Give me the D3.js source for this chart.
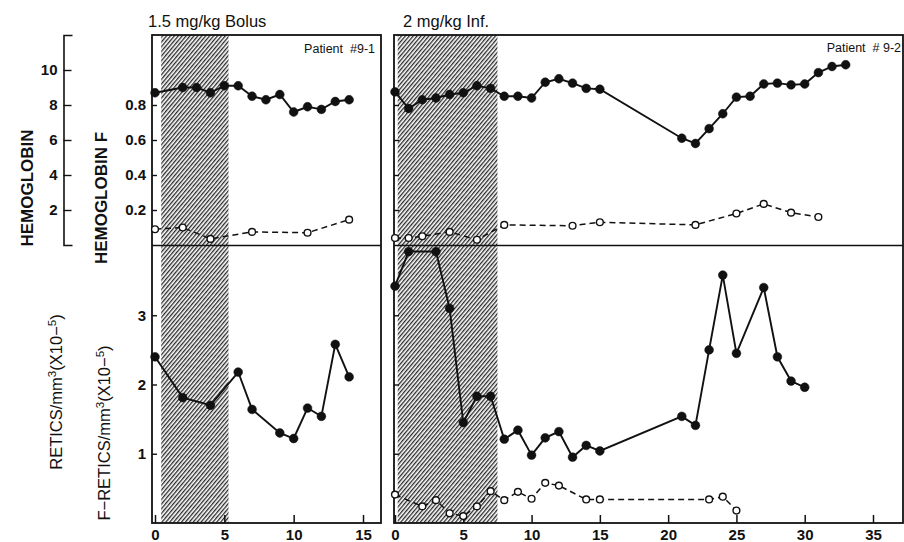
<!DOCTYPE html>
<html>
<head>
<meta charset="utf-8">
<script src="https://cdn.jsdelivr.net/npm/d3@7"></script>
<style>
  body { margin: 0; background: #fff; }
  svg { display: block; font-family: "Liberation Sans", Arial, sans-serif; }
</style>
</head>
<body>
<svg id="chart" width="904" height="542"></svg>
<script>
// --- data (days after start) ---
var hbLeftDays = [0, 2, 3, 4, 5, 6, 7, 8, 9, 10, 11, 12, 13, 14];
var hbLeft = [8.7, 9.0, 9.0, 8.7, 9.1, 9.1, 8.5, 8.3, 8.6, 7.6, 7.9, 7.75, 8.2, 8.3];
var hbfLeftDays = [0, 2, 4, 7, 11, 14];
var hbfLeft = [0.09, 0.10, 0.035, 0.075, 0.07, 0.145];

var hbRightDays = [0, 1, 2, 3, 4, 5, 6, 7, 8, 9, 10, 11, 12, 13, 14, 15, 21, 22, 23, 24, 25, 26, 27, 28, 29, 30, 31, 32, 33];
var hbRight = [8.75, 7.8, 8.3, 8.4, 8.6, 8.7, 9.1, 8.95, 8.5, 8.5, 8.4, 9.3, 9.5, 9.25, 8.95, 8.9, 6.1, 5.8, 6.65, 7.5, 8.45, 8.5, 9.2, 9.25, 9.15, 9.2, 9.85, 10.2, 10.3];
var hbfRightDays = [0, 1, 2, 4, 6, 8, 13, 15, 22, 25, 27, 29, 31];
var hbfRight = [0.04, 0.04, 0.05, 0.075, 0.03, 0.115, 0.11, 0.13, 0.115, 0.18, 0.235, 0.185, 0.16];

var retLeftDays = [0, 2, 4, 6, 7, 9, 10, 11, 12, 13, 14];
var retLeft = [2.4, 1.81, 1.7, 2.18, 1.64, 1.3, 1.22, 1.66, 1.54, 2.58, 2.11];

var retRightDays = [0, 1, 3, 4, 5, 6, 7, 8, 9, 10, 11, 12, 13, 14, 15, 21, 22, 23, 24, 25, 27, 28, 29, 30];
var retRight = [3.42, 3.92, 3.92, 3.1, 1.45, 1.83, 1.83, 1.21, 1.34, 0.98, 1.23, 1.32, 0.95, 1.12, 1.04, 1.54, 1.41, 2.5, 3.58, 2.45, 3.4, 2.4, 2.05, 1.96];
var fretRightDays = [0, 2, 3, 4, 5, 6, 7, 8, 9, 10, 11, 12, 14, 15, 23, 24, 25];
var fretRight = [0.41, 0.24, 0.33, 0.14, 0.1, 0.24, 0.46, 0.33, 0.45, 0.35, 0.58, 0.54, 0.34, 0.34, 0.34, 0.38, 0.18];

// treatment windows (days)
var doseLeft = [0.45, 5.3];
var doseRight = [0.2, 7.5];

var hbTicks = [2, 4, 6, 8, 10];
var hbfTicks = [0.2, 0.4, 0.6, 0.8];
var retTicks = [1, 2, 3];
var xTicksLeft = [0, 5, 10, 15];
var xTicksRight = [0, 5, 10, 15, 20, 25, 30, 35];

var svg = d3.select("#chart");

// scales
var xL = d3.scaleLinear().domain([0, 15]).range([155, 363]);
var xR = d3.scaleLinear().domain([0, 35]).range([395, 873]);
var yHb = d3.scaleLinear().domain([0, 12]).range([245, 35]);
var yF = d3.scaleLinear().domain([0, 1.2]).range([245, 35]);
var yRet = d3.scaleLinear().domain([0, 4]).range([523, 246]);

var panels = [
  {x: xL, left: 152, right: 381, dose: doseLeft, ticks: xTicksLeft, labels: true},
  {x: xR, left: 394, right: 903, dose: doseRight, ticks: xTicksRight, labels: false}
];

// hatch pattern
svg.append("defs").append("pattern")
    .attr("id", "hatch")
    .attr("patternUnits", "userSpaceOnUse")
    .attr("width", 3).attr("height", 3)
    .attr("patternTransform", "rotate(40)")
  .append("line")
    .attr("x1", 0.7).attr("y1", 0).attr("x2", 0.7).attr("y2", 3)
    .attr("stroke", "#111").attr("stroke-width", 1.2);

panels.forEach(function(p) {
  var g = svg.append("g");
  g.append("rect")
      .attr("x", p.x(p.dose[0])).attr("y", 35)
      .attr("width", p.x(p.dose[1]) - p.x(p.dose[0]))
      .attr("height", 523 - 35)
      .attr("fill", "url(#hatch)");

  g.append("rect")
      .attr("x", p.left).attr("y", 35)
      .attr("width", p.right - p.left).attr("height", 523 - 35)
      .attr("fill", "none").attr("stroke", "#111").attr("stroke-width", 1.8);
  g.append("line")
      .attr("x1", p.left).attr("x2", p.right)
      .attr("y1", 245.5).attr("y2", 245.5)
      .attr("stroke", "#111").attr("stroke-width", 1.6);

  // x axis (inward ticks)
  var xa = d3.axisBottom(p.x).tickValues(p.ticks).tickSize(-8).tickPadding(6).tickFormat(d3.format("d"));
  var gx = g.append("g").attr("transform", "translate(0,523)").call(xa);
  gx.select(".domain").remove();
  gx.selectAll(".tick line").attr("stroke", "#111").attr("stroke-width", 1.5);
  gx.selectAll(".tick text").attr("font-size", 15).attr("font-weight", "bold")
      .attr("fill", "#111").attr("font-family", "Liberation Sans, Arial, sans-serif");

  // y ticks (inward), labels only on the left panel
  var ya = d3.axisRight(yF).tickValues(hbfTicks).tickSize(5)
      .tickFormat(p.labels ? d3.format(".1f") : "");
  var gy = g.append("g").attr("transform", "translate(" + p.left + ",0)").call(ya);
  var yb = d3.axisRight(yRet).tickValues(retTicks).tickSize(5)
      .tickFormat(p.labels ? d3.format("d") : "");
  var gy2 = g.append("g").attr("transform", "translate(" + p.left + ",0)").call(yb);
  [gy, gy2].forEach(function(a) {
    a.select(".domain").remove();
    a.selectAll(".tick line").attr("stroke", "#111").attr("stroke-width", 1.4);
    a.selectAll(".tick text").attr("x", -6).attr("text-anchor", "end")
        .attr("font-size", 15).attr("font-weight", "bold").attr("fill", "#111")
        .attr("font-family", "Liberation Sans, Arial, sans-serif");
  });
});

// outer hemoglobin axis
var ha = d3.axisRight(yHb).tickValues(hbTicks).tickSize(8).tickSizeOuter(9).tickFormat(d3.format("d"));
var gh = svg.append("g").attr("transform", "translate(63.5,0)").call(ha);
gh.select(".domain").attr("stroke", "#111").attr("stroke-width", 1.6);
gh.selectAll(".tick line").attr("stroke", "#111").attr("stroke-width", 1.4);
gh.selectAll(".tick text").attr("x", -6).attr("text-anchor", "end")
    .attr("font-size", 15).attr("font-weight", "bold").attr("fill", "#111")
    .attr("font-family", "Liberation Sans, Arial, sans-serif");

// series drawing
function series(days, vals, x, y, filled) {
  var pts = days.map(function(d, i) { return [x(d), y(vals[i])]; });
  var g = svg.append("g");
  g.append("path")
      .attr("d", d3.line()(pts))
      .attr("fill", "none").attr("stroke", "#111")
      .attr("stroke-width", filled ? 1.9 : 1.5)
      .attr("stroke-dasharray", filled ? null : "6,4");
  g.selectAll("circle").data(pts).enter().append("circle")
      .attr("cx", d => d[0]).attr("cy", d => d[1])
      .attr("r", filled ? 4.4 : 3.4)
      .attr("fill", filled ? "#111" : "#fff")
      .attr("stroke", "#111").attr("stroke-width", filled ? 0.5 : 1.4);
}

series(hbfLeftDays, hbfLeft, xL, yF, false);
series(hbLeftDays, hbLeft, xL, yHb, true);
series(hbfRightDays, hbfRight, xR, yF, false);
series(hbRightDays, hbRight, xR, yHb, true);
series(retLeftDays, retLeft, xL, yRet, true);
series(fretRightDays, fretRight, xR, yRet, false);
series(retRightDays, retRight, xR, yRet, true);

// titles and notes
svg.append("text").attr("x", 148).attr("y", 27).attr("font-size", 16.5).attr("fill", "#111")
    .text("1.5 mg/kg Bolus");
svg.append("text").attr("x", 403).attr("y", 27).attr("font-size", 16.5).attr("fill", "#111")
    .text("2 mg/kg Inf.");
svg.append("text").attr("x", 375).attr("y", 52.5).attr("font-size", 12.5).attr("fill", "#111")
    .attr("text-anchor", "end").attr("xml:space", "preserve").text("Patient  #9-1");
svg.append("text").attr("x", 901).attr("y", 52).attr("font-size", 12.5).attr("fill", "#111")
    .attr("text-anchor", "end").attr("xml:space", "preserve").text("Patient  # 9-2");

// rotated axis titles
function vlabel(x, y, size, weight) {
  return svg.append("text")
      .attr("transform", "translate(" + x + "," + y + ") rotate(-90)")
      .attr("text-anchor", "middle")
      .attr("font-size", size).attr("font-weight", weight).attr("fill", "#111");
}
vlabel(33, 188, 17, "bold").text("HEMOGLOBIN");
vlabel(107, 198, 17, "bold").text("HEMOGLOBIN F");

function reticLabel(t, prefix) {
  t.append("tspan").text(prefix + "RETICS/mm");
  t.append("tspan").attr("dy", -6).attr("font-size", "0.7em").text("3");
  t.append("tspan").attr("dy", 6).text("(X10\u2212");
  t.append("tspan").attr("dy", -6).attr("font-size", "0.7em").text("5");
  t.append("tspan").attr("dy", 6).text(")");
}
reticLabel(vlabel(62, 392, 16.5, "normal"), "");
reticLabel(vlabel(110, 433, 16.5, "normal"), "F\u2212");
</script>
</body>
</html>
